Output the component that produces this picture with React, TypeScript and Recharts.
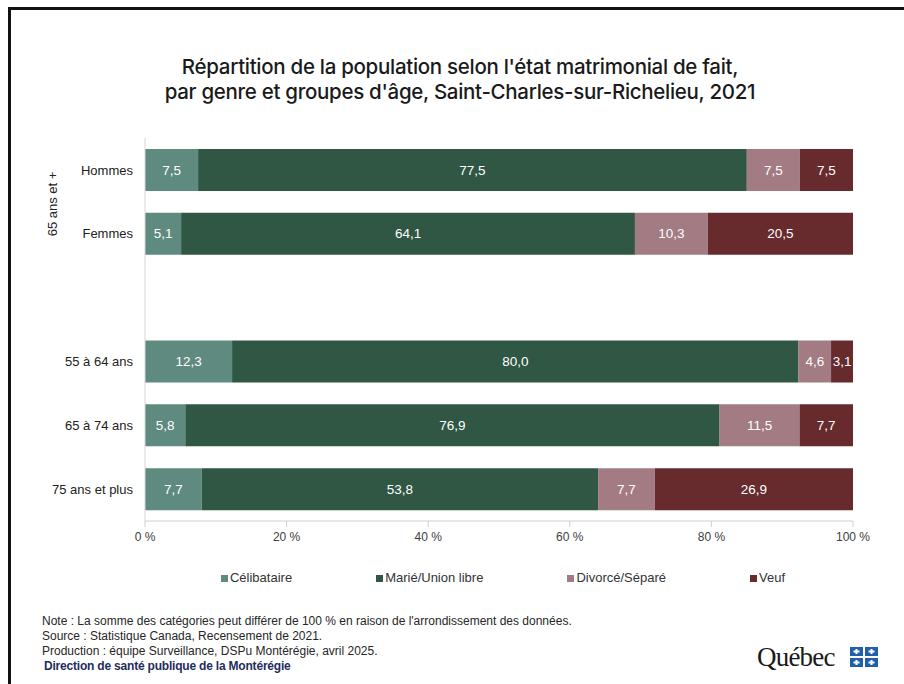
import React from 'react';
import { BarChart, Bar, XAxis, YAxis, LabelList } from 'recharts';

// Catégories (la ligne vide sert d'espacement entre les deux groupes)
const categories = ['Hommes', 'Femmes', '', '55 à 64 ans', '65 à 74 ans', '75 ans et plus'];
const celibataire = [7.5, 5.1, null, 12.3, 5.8, 7.7];
const marie = [77.5, 64.1, null, 80.0, 76.9, 53.8];
const divorce = [7.5, 10.3, null, 4.6, 11.5, 7.7];
const veuf = [7.5, 20.5, null, 3.1, 7.7, 26.9];
const xTicks = [0, 0.2, 0.4, 0.6, 0.8, 1];

const series = [
  { key: 'celibataire', name: 'Célibataire', color: '#5f8a80', values: celibataire },
  { key: 'marie', name: 'Marié/Union libre', color: '#2f5744', values: marie },
  { key: 'divorce', name: 'Divorcé/Séparé', color: '#a37b83', values: divorce },
  { key: 'veuf', name: 'Veuf', color: '#672a2d', values: veuf },
];

const data = categories.map((cat, i) => {
  const row: any = { cat };
  series.forEach(s => { row[s.key] = s.values[i]; });
  return row;
});

const FONT = '"Liberation Sans", Arial, sans-serif';

const renderLabel = (props: any) => {
  const { x, y, width, height, value } = props;
  if (value == null || !width) return null;
  return (
    <text
      x={x + width / 2}
      y={y + height / 2}
      fill="#ffffff"
      textAnchor="middle"
      dominantBaseline="central"
      fontSize={13.5}
      fontFamily={FONT}
    >
      {Number(value).toFixed(1).replace('.', ',')}
    </text>
  );
};

const QuebecLogo = () => (
  <svg width={130} height={30} style={{ position: 'absolute', left: 754, top: 641 }}>
    <text x={3} y={25} fontFamily='"Liberation Serif", "DejaVu Serif", serif' fontSize={27} fill="#1a1a1a" letterSpacing={-0.8}>
      Québec
    </text>
    {[0, 1].map(r =>
      [0, 1].map(c => (
        <g key={`${r}-${c}`}>
          <rect x={96 + c * 15} y={6 + r * 11} width={13} height={9} fill="#1f5fae" />
          <rect x={96 + c * 15 + 5.5} y={6 + r * 11 + 2} width={2} height={5} fill="#fff" />
          <rect x={96 + c * 15 + 3.5} y={6 + r * 11 + 3.5} width={6} height={2} fill="#fff" />
        </g>
      ))
    )}
  </svg>
);

export default function App() {
  return (
    <div
      style={{
        position: 'absolute',
        left: 0,
        top: 0,
        width: 904,
        height: 684,
        overflow: 'hidden',
        background: '#fff',
        fontFamily: FONT,
      }}
    >
      <div
        style={{
          position: 'absolute',
          left: 8,
          top: 7,
          width: 920,
          height: 700,
          borderTop: '3px solid #111',
          borderLeft: '3px solid #111',
        }}
      />
      <div
        style={{
          position: 'absolute',
          left: 10,
          top: 54,
          width: 900,
          textAlign: 'center',
          fontFamily: 'Inter, "Liberation Sans", sans-serif',
          fontWeight: 500,
          fontSize: 20.5,
          letterSpacing: -0.3,
          lineHeight: '25px',
          color: '#1a1a1a',
        }}
      >
        Répartition de la population selon l'état matrimonial de fait,
        <br />
        par genre et groupes d'âge, Saint-Charles-sur-Richelieu, 2021
      </div>

      <div style={{ position: 'absolute', left: 0, top: 0 }}>
        <BarChart
          width={904}
          height={684}
          data={data}
          layout="vertical"
          stackOffset="expand"
          margin={{ top: 138, right: 51, bottom: 133, left: 0 }}
        >
          <XAxis
            type="number"
            domain={[0, 1]}
            ticks={xTicks}
            tickFormatter={(v: number) => `${Math.round(v * 100)} %`}
            stroke="#cfcfcf"
            tickSize={6}
            tickMargin={5}
            tick={{ fontSize: 12, fill: '#404040', fontFamily: FONT }}
          />
          <YAxis
            type="category"
            dataKey="cat"
            width={145}
            stroke="#d6d6d6"
            tickLine={false}
            tickMargin={6}
            tick={{ fontSize: 13, fill: '#222', fontFamily: FONT }}
          />
          {series.map(s => (
            <Bar
              key={s.key}
              dataKey={s.key}
              name={s.name}
              stackId="a"
              fill={s.color}
              barSize={42}
              isAnimationActive={false}
            >
              <LabelList dataKey={s.key} content={renderLabel} />
            </Bar>
          ))}
        </BarChart>
      </div>

      <div
        style={{
          position: 'absolute',
          left: 52,
          top: 204,
          transform: 'translate(-50%, -50%) rotate(-90deg)',
          fontSize: 13,
          color: '#222',
          whiteSpace: 'nowrap',
        }}
      >
        65 ans et +
      </div>

      <div
        style={{
          position: 'absolute',
          left: 145,
          width: 716,
          top: 570,
          display: 'flex',
          justifyContent: 'center',
          gap: 84,
          fontSize: 13,
          color: '#333',
          lineHeight: '16px',
        }}
      >
        {series.map(s => (
          <div key={s.key} style={{ display: 'flex', alignItems: 'center' }}>
            <span style={{ width: 7, height: 7, background: s.color, marginRight: 2, display: 'inline-block' }} />
            <span>{s.name}</span>
          </div>
        ))}
      </div>

      <div
        style={{
          position: 'absolute',
          left: 42,
          top: 614,
          fontSize: 12,
          lineHeight: '15px',
          color: '#262626',
        }}
      >
        <div>Note : La somme des catégories peut différer de 100 % en raison de l'arrondissement des données.</div>
        <div>Source : Statistique Canada, Recensement de 2021.</div>
        <div>Production : équipe Surveillance, DSPu Montérégie, avril 2025.</div>
        <div style={{ marginLeft: 2, fontWeight: 'bold', color: '#1f2d5c', letterSpacing: -0.2 }}>
          Direction de santé publique de la Montérégie
        </div>
      </div>

      <QuebecLogo />
    </div>
  );
}
